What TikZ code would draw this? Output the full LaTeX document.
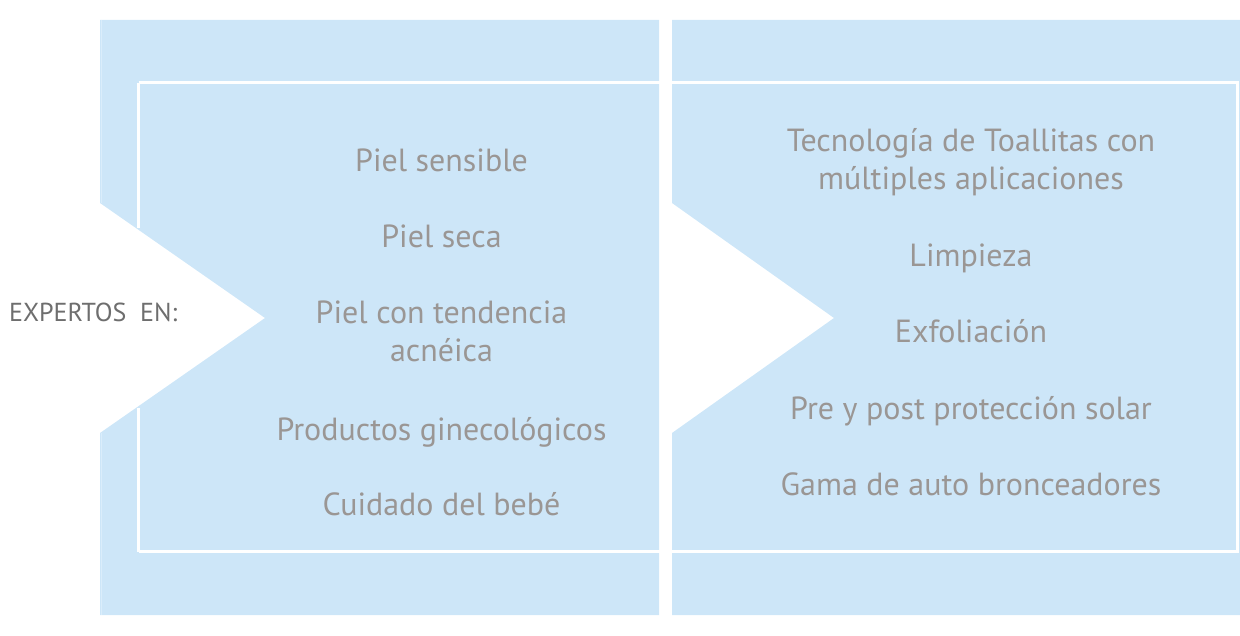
\documentclass[tikz,border=0pt]{standalone}
\usepackage{fontspec}
\setmainfont{PT Sans}
\definecolor{panelblue}{RGB}{205,230,248}
\definecolor{edgeblue}{RGB}{218,237,251}
\definecolor{itemgrey}{RGB}{154,150,148}
\definecolor{labelgrey}{RGB}{110,110,110}
\begin{document}
\begin{tikzpicture}[x=1pt,y=-1pt,
  panel/.style={fill=panelblue,draw=none},
  frame/.style={draw=white,line width=3pt},
  item/.style={anchor=base,text=itemgrey,font=\fontsize{32}{38}\selectfont,inner sep=0pt},
  lbl/.style={anchor=base west,text=labelgrey,font=\fontsize{26}{31}\selectfont,inner sep=0pt}]
\useasboundingbox (0,0) rectangle (1240,636);
% panels
\fill[panel] (100,20) -- (659,20) -- (659,615) -- (100,615) -- (100,433) -- (265,318) -- (100,203) -- cycle;
\fill[panel] (672,20) -- (1240,20) -- (1240,615) -- (672,615) -- (672,433) -- (834,318) -- (672,203) -- cycle;
\draw[edgeblue,line width=1pt] (101,20) -- (101,203);
\draw[edgeblue,line width=1pt] (101,433) -- (101,615);
% inner frame
\draw[frame] (138.5,83) -- (1237.5,83) -- (1237.5,551.5) -- (138.5,551.5);
\draw[frame] (138.5,83) -- (138.5,228);
\draw[frame] (138.5,408) -- (138.5,551.5);
% label
\node[lbl] (expertos) at (9,322) {EXPERTOS\ \ EN:};
% left items
\node[item] (a1) at (441.5,172) {Piel sensible};
\node[item] (a2) at (441.5,248) {Piel seca};
\node[item] (a3a) at (441.5,324) {Piel con tendencia};
\node[item] (a3b) at (441.5,362) {acnéica};
\node[item] (a4) at (441.5,440) {Productos ginecológicos};
\node[item] (a5) at (441.5,515) {Cuidado del bebé};
% right items
\node[item] (b1a) at (971,152) {Tecnología de Toallitas con};
\node[item] (b1b) at (971,190) {múltiples aplicaciones};
\node[item] (b2) at (971,267) {Limpieza};
\node[item] (b3) at (971,343) {Exfoliación};
\node[item] (b4) at (971,419) {Pre y post protección solar};
\node[item] (b5) at (971,495) {Gama de auto bronceadores};
\end{tikzpicture}
\end{document}
